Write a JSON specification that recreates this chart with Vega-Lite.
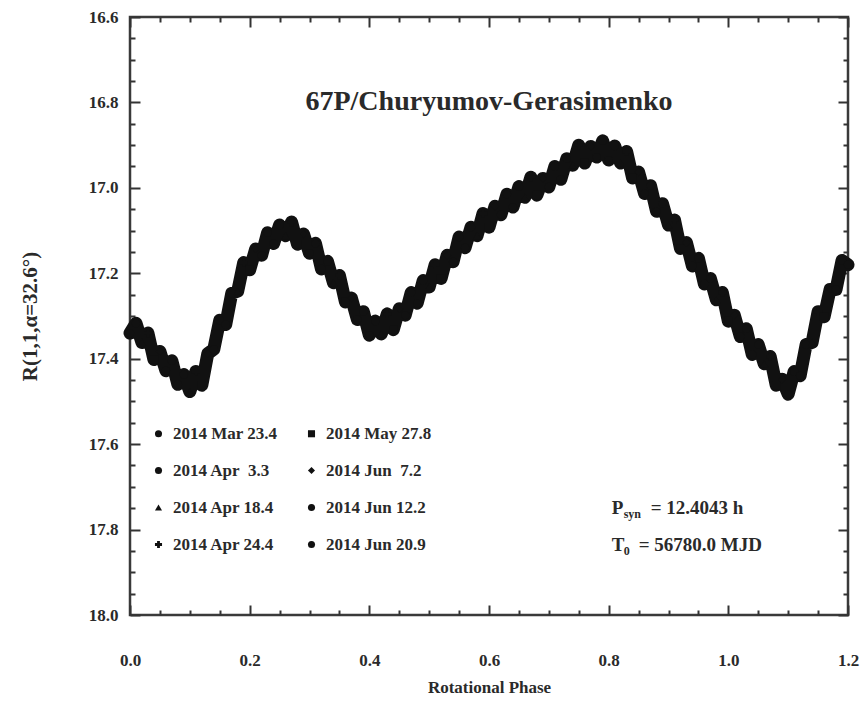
{
  "$schema": "https://vega.github.io/schema/vega-lite/v6.json",
  "width": 718,
  "height": 598,
  "autosize": {"type": "none"},
  "padding": {"left": 130, "top": 17, "right": 16, "bottom": 94},
  "background": "white",
  "config": {"view": {"stroke": "#3a3a3a", "strokeWidth": 2.5}, "font": "Liberation Serif"},
  "datasets": {
    "curve": [
      {"p": 0.00, "m": 17.34, "d": "2014 Mar 23.4"},
      {"p": 0.01, "m": 17.317, "d": "2014 Apr\u00a0 3.3"},
      {"p": 0.02, "m": 17.362, "d": "2014 Apr 18.4"},
      {"p": 0.03, "m": 17.34, "d": "2014 Apr 24.4"},
      {"p": 0.04, "m": 17.402, "d": "2014 May 27.8"},
      {"p": 0.05, "m": 17.383, "d": "2014 Jun\u00a0 7.2"},
      {"p": 0.06, "m": 17.428, "d": "2014 Jun 12.2"},
      {"p": 0.07, "m": 17.405, "d": "2014 Jun 20.9"},
      {"p": 0.08, "m": 17.46, "d": "2014 Mar 23.4"},
      {"p": 0.09, "m": 17.437, "d": "2014 Apr\u00a0 3.3"},
      {"p": 0.10, "m": 17.477, "d": "2014 Apr 18.4"},
      {"p": 0.11, "m": 17.43, "d": "2014 Apr 24.4"},
      {"p": 0.12, "m": 17.462, "d": "2014 May 27.8"},
      {"p": 0.13, "m": 17.388, "d": "2014 Jun\u00a0 7.2"},
      {"p": 0.14, "m": 17.378, "d": "2014 Jun 12.2"},
      {"p": 0.15, "m": 17.31, "d": "2014 Jun 20.9"},
      {"p": 0.16, "m": 17.32, "d": "2014 Mar 23.4"},
      {"p": 0.17, "m": 17.247, "d": "2014 Apr\u00a0 3.3"},
      {"p": 0.18, "m": 17.242, "d": "2014 Apr 18.4"},
      {"p": 0.19, "m": 17.175, "d": "2014 Apr 24.4"},
      {"p": 0.20, "m": 17.192, "d": "2014 May 27.8"},
      {"p": 0.21, "m": 17.143, "d": "2014 Jun\u00a0 7.2"},
      {"p": 0.22, "m": 17.158, "d": "2014 Jun 12.2"},
      {"p": 0.23, "m": 17.105, "d": "2014 Jun 20.9"},
      {"p": 0.24, "m": 17.13, "d": "2014 Mar 23.4"},
      {"p": 0.25, "m": 17.087, "d": "2014 Apr\u00a0 3.3"},
      {"p": 0.26, "m": 17.112, "d": "2014 Apr 18.4"},
      {"p": 0.27, "m": 17.08, "d": "2014 Apr 24.4"},
      {"p": 0.28, "m": 17.132, "d": "2014 May 27.8"},
      {"p": 0.29, "m": 17.108, "d": "2014 Jun\u00a0 7.2"},
      {"p": 0.30, "m": 17.153, "d": "2014 Jun 12.2"},
      {"p": 0.31, "m": 17.13, "d": "2014 Jun 20.9"},
      {"p": 0.32, "m": 17.19, "d": "2014 Mar 23.4"},
      {"p": 0.33, "m": 17.172, "d": "2014 Apr\u00a0 3.3"},
      {"p": 0.34, "m": 17.222, "d": "2014 Apr 18.4"},
      {"p": 0.35, "m": 17.205, "d": "2014 Apr 24.4"},
      {"p": 0.36, "m": 17.267, "d": "2014 May 27.8"},
      {"p": 0.37, "m": 17.258, "d": "2014 Jun\u00a0 7.2"},
      {"p": 0.38, "m": 17.308, "d": "2014 Jun 12.2"},
      {"p": 0.39, "m": 17.29, "d": "2014 Jun 20.9"},
      {"p": 0.40, "m": 17.345, "d": "2014 Mar 23.4"},
      {"p": 0.41, "m": 17.312, "d": "2014 Apr\u00a0 3.3"},
      {"p": 0.42, "m": 17.342, "d": "2014 Apr 18.4"},
      {"p": 0.43, "m": 17.295, "d": "2014 Apr 24.4"},
      {"p": 0.44, "m": 17.332, "d": "2014 May 27.8"},
      {"p": 0.45, "m": 17.283, "d": "2014 Jun\u00a0 7.2"},
      {"p": 0.46, "m": 17.298, "d": "2014 Jun 12.2"},
      {"p": 0.47, "m": 17.245, "d": "2014 Jun 20.9"},
      {"p": 0.48, "m": 17.27, "d": "2014 Mar 23.4"},
      {"p": 0.49, "m": 17.217, "d": "2014 Apr\u00a0 3.3"},
      {"p": 0.50, "m": 17.232, "d": "2014 Apr 18.4"},
      {"p": 0.51, "m": 17.18, "d": "2014 Apr 24.4"},
      {"p": 0.52, "m": 17.212, "d": "2014 May 27.8"},
      {"p": 0.53, "m": 17.158, "d": "2014 Jun\u00a0 7.2"},
      {"p": 0.54, "m": 17.173, "d": "2014 Jun 12.2"},
      {"p": 0.55, "m": 17.115, "d": "2014 Jun 20.9"},
      {"p": 0.56, "m": 17.14, "d": "2014 Mar 23.4"},
      {"p": 0.57, "m": 17.092, "d": "2014 Apr\u00a0 3.3"},
      {"p": 0.58, "m": 17.112, "d": "2014 Apr 18.4"},
      {"p": 0.59, "m": 17.06, "d": "2014 Apr 24.4"},
      {"p": 0.60, "m": 17.092, "d": "2014 May 27.8"},
      {"p": 0.61, "m": 17.043, "d": "2014 Jun\u00a0 7.2"},
      {"p": 0.62, "m": 17.063, "d": "2014 Jun 12.2"},
      {"p": 0.63, "m": 17.015, "d": "2014 Jun 20.9"},
      {"p": 0.64, "m": 17.045, "d": "2014 Mar 23.4"},
      {"p": 0.65, "m": 16.997, "d": "2014 Apr\u00a0 3.3"},
      {"p": 0.66, "m": 17.022, "d": "2014 Apr 18.4"},
      {"p": 0.67, "m": 16.975, "d": "2014 Apr 24.4"},
      {"p": 0.68, "m": 17.017, "d": "2014 May 27.8"},
      {"p": 0.69, "m": 16.978, "d": "2014 Jun\u00a0 7.2"},
      {"p": 0.70, "m": 16.998, "d": "2014 Jun 12.2"},
      {"p": 0.71, "m": 16.95, "d": "2014 Jun 20.9"},
      {"p": 0.72, "m": 16.98, "d": "2014 Mar 23.4"},
      {"p": 0.73, "m": 16.932, "d": "2014 Apr\u00a0 3.3"},
      {"p": 0.74, "m": 16.947, "d": "2014 Apr 18.4"},
      {"p": 0.75, "m": 16.90, "d": "2014 Apr 24.4"},
      {"p": 0.76, "m": 16.942, "d": "2014 May 27.8"},
      {"p": 0.77, "m": 16.903, "d": "2014 Jun\u00a0 7.2"},
      {"p": 0.78, "m": 16.928, "d": "2014 Jun 12.2"},
      {"p": 0.79, "m": 16.89, "d": "2014 Jun 20.9"},
      {"p": 0.80, "m": 16.935, "d": "2014 Mar 23.4"},
      {"p": 0.81, "m": 16.902, "d": "2014 Apr\u00a0 3.3"},
      {"p": 0.82, "m": 16.942, "d": "2014 Apr 18.4"},
      {"p": 0.83, "m": 16.915, "d": "2014 Apr 24.4"},
      {"p": 0.84, "m": 16.977, "d": "2014 May 27.8"},
      {"p": 0.85, "m": 16.963, "d": "2014 Jun\u00a0 7.2"},
      {"p": 0.86, "m": 17.013, "d": "2014 Jun 12.2"},
      {"p": 0.87, "m": 16.995, "d": "2014 Jun 20.9"},
      {"p": 0.88, "m": 17.055, "d": "2014 Mar 23.4"},
      {"p": 0.89, "m": 17.037, "d": "2014 Apr\u00a0 3.3"},
      {"p": 0.90, "m": 17.087, "d": "2014 Apr 18.4"},
      {"p": 0.91, "m": 17.075, "d": "2014 Apr 24.4"},
      {"p": 0.92, "m": 17.142, "d": "2014 May 27.8"},
      {"p": 0.93, "m": 17.128, "d": "2014 Jun\u00a0 7.2"},
      {"p": 0.94, "m": 17.183, "d": "2014 Jun 12.2"},
      {"p": 0.95, "m": 17.165, "d": "2014 Jun 20.9"},
      {"p": 0.96, "m": 17.225, "d": "2014 Mar 23.4"},
      {"p": 0.97, "m": 17.212, "d": "2014 Apr\u00a0 3.3"},
      {"p": 0.98, "m": 17.262, "d": "2014 Apr 18.4"},
      {"p": 0.99, "m": 17.245, "d": "2014 Apr 24.4"},
      {"p": 1.00, "m": 17.312, "d": "2014 May 27.8"},
      {"p": 1.01, "m": 17.298, "d": "2014 Jun\u00a0 7.2"},
      {"p": 1.02, "m": 17.348, "d": "2014 Jun 12.2"},
      {"p": 1.03, "m": 17.33, "d": "2014 Jun 20.9"},
      {"p": 1.04, "m": 17.39, "d": "2014 Mar 23.4"},
      {"p": 1.05, "m": 17.367, "d": "2014 Apr\u00a0 3.3"},
      {"p": 1.06, "m": 17.412, "d": "2014 Apr 18.4"},
      {"p": 1.07, "m": 17.395, "d": "2014 Apr 24.4"},
      {"p": 1.08, "m": 17.462, "d": "2014 May 27.8"},
      {"p": 1.09, "m": 17.448, "d": "2014 Jun\u00a0 7.2"},
      {"p": 1.10, "m": 17.483, "d": "2014 Jun 12.2"},
      {"p": 1.11, "m": 17.43, "d": "2014 Jun 20.9"},
      {"p": 1.12, "m": 17.44, "d": "2014 Mar 23.4"},
      {"p": 1.13, "m": 17.367, "d": "2014 Apr\u00a0 3.3"},
      {"p": 1.14, "m": 17.362, "d": "2014 Apr 18.4"},
      {"p": 1.15, "m": 17.29, "d": "2014 Apr 24.4"},
      {"p": 1.16, "m": 17.302, "d": "2014 May 27.8"},
      {"p": 1.17, "m": 17.238, "d": "2014 Jun\u00a0 7.2"},
      {"p": 1.18, "m": 17.238, "d": "2014 Jun 12.2"},
      {"p": 1.19, "m": 17.17, "d": "2014 Jun 20.9"},
      {"p": 1.20, "m": 17.18, "d": "2014 Mar 23.4"}
    ]
  },
  "data": {"name": "curve"},
  "layer": [
    {
      "mark": {"type": "line", "color": "#111", "strokeWidth": 13, "strokeJoin": "round", "strokeCap": "round"},
      "encoding": {
        "x": {
          "field": "p", "type": "quantitative",
          "scale": {"domain": [0, 1.2], "nice": false, "zero": false},
          "axis": {
            "orient": "bottom",
            "values": [0, 0.05, 0.1, 0.15, 0.2, 0.25, 0.3, 0.35, 0.4, 0.45, 0.5, 0.55, 0.6, 0.65, 0.7, 0.75, 0.8, 0.85, 0.9, 0.95, 1, 1.05, 1.1, 1.15, 1.2],
            "format": ".1f",
            "labelExpr": "abs(datum.value*5-round(datum.value*5))<0.001 ? datum.label : ''",
            "tickSize": {"condition": {"test": "abs(datum.value*5-round(datum.value*5))<0.001", "value": -10}, "value": -5},
            "tickColor": "#333", "tickWidth": 2,
            "domain": false, "grid": false,
            "labelFont": "Liberation Serif", "labelFontWeight": "bold", "labelFontSize": 17, "labelColor": "#2a2a2a",
            "labelPadding": 47, "labelFlush": false, "labelOverlap": false,
            "title": "Rotational Phase",
            "titleFont": "Liberation Serif", "titleFontWeight": "bold", "titleFontSize": 17, "titleColor": "#2a2a2a",
            "titlePadding": 6
          }
        },
        "y": {
          "field": "m", "type": "quantitative",
          "scale": {"domain": [16.6, 18.0], "reverse": true, "nice": false, "zero": false},
          "axis": {
            "orient": "left",
            "values": [16.6, 16.65, 16.7, 16.75, 16.8, 16.85, 16.9, 16.95, 17.0, 17.05, 17.1, 17.15, 17.2, 17.25, 17.3, 17.35, 17.4, 17.45, 17.5, 17.55, 17.6, 17.65, 17.7, 17.75, 17.8, 17.85, 17.9, 17.95, 18.0],
            "format": ".1f",
            "labelExpr": "abs((datum.value-16.6)*5-round((datum.value-16.6)*5))<0.001 ? datum.label : ''",
            "tickSize": {"condition": {"test": "abs((datum.value-16.6)*5-round((datum.value-16.6)*5))<0.001", "value": -10}, "value": -5},
            "tickColor": "#333", "tickWidth": 2,
            "domain": false, "grid": false,
            "labelFont": "Liberation Serif", "labelFontWeight": "bold", "labelFontSize": 17, "labelColor": "#2a2a2a",
            "labelPadding": 22, "labelFlush": false, "labelOverlap": false,
            "title": "R(1,1,α=32.6°)",
            "titleFont": "Liberation Serif", "titleFontWeight": "bold", "titleFontSize": 21, "titleColor": "#2a2a2a",
            "titlePadding": 48
          }
        }
      }
    },
    {
      "mark": {"type": "point", "filled": true, "color": "#111", "size": 70, "opacity": 1},
      "encoding": {
        "x": {"field": "p", "type": "quantitative", "axis": null},
        "y": {"field": "m", "type": "quantitative", "axis": null},
        "shape": {
          "field": "d", "type": "nominal",
          "scale": {
            "domain": ["2014 Mar 23.4", "2014 Apr\u00a0 3.3", "2014 Apr 18.4", "2014 Apr 24.4", "2014 May 27.8", "2014 Jun\u00a0 7.2", "2014 Jun 12.2", "2014 Jun 20.9"],
            "range": ["circle", "circle", "triangle-up", "cross", "square", "diamond", "circle", "circle"]
          },
          "legend": {
            "orient": "none", "legendX": 20, "legendY": 408,
            "title": null, "columns": 2, "columnPadding": 25, "rowPadding": 19,
            "labelFont": "Liberation Serif", "labelFontWeight": "bold", "labelFontSize": 17, "labelColor": "#2a2a2a",
            "labelLimit": 250, "labelOffset": 6, "symbolSize": 50, "symbolFillColor": "#222", "symbolStrokeColor": "#222"
          }
        }
      }
    },
    {
      "mark": {"type": "point", "opacity": 0},
      "encoding": {
        "x": {
          "field": "p", "type": "quantitative",
          "axis": {
            "orient": "top",
            "values": [0, 0.05, 0.1, 0.15, 0.2, 0.25, 0.3, 0.35, 0.4, 0.45, 0.5, 0.55, 0.6, 0.65, 0.7, 0.75, 0.8, 0.85, 0.9, 0.95, 1, 1.05, 1.1, 1.15, 1.2],
            "labels": false, "title": null, "domain": false, "grid": false,
            "tickSize": {"condition": {"test": "abs(datum.value*5-round(datum.value*5))<0.001", "value": -10}, "value": -5},
            "tickColor": "#333", "tickWidth": 2
          }
        },
        "y": {
          "field": "m", "type": "quantitative",
          "axis": {
            "orient": "right",
            "values": [16.6, 16.65, 16.7, 16.75, 16.8, 16.85, 16.9, 16.95, 17.0, 17.05, 17.1, 17.15, 17.2, 17.25, 17.3, 17.35, 17.4, 17.45, 17.5, 17.55, 17.6, 17.65, 17.7, 17.75, 17.8, 17.85, 17.9, 17.95, 18.0],
            "labels": false, "title": null, "domain": false, "grid": false,
            "tickSize": {"condition": {"test": "abs((datum.value-16.6)*5-round((datum.value-16.6)*5))<0.001", "value": -10}, "value": -5},
            "tickColor": "#333", "tickWidth": 2
          }
        }
      }
    },
    {
      "data": {"values": [{}]},
      "mark": {"type": "text", "text": "67P/Churyumov-Gerasimenko", "font": "Liberation Serif", "fontWeight": "bold", "fontSize": 28, "color": "#2a2a2a", "align": "center", "baseline": "middle"},
      "encoding": {
        "x": {"datum": 0.6, "type": "quantitative", "axis": null},
        "y": {"datum": 16.8, "type": "quantitative", "axis": null}
      }
    },
    {
      "data": {"values": [{}]},
      "mark": {"type": "text", "text": "P", "font": "Liberation Serif", "fontWeight": "bold", "fontSize": 19, "color": "#2a2a2a", "align": "left", "baseline": "middle"},
      "encoding": {
        "x": {"datum": 0.805, "type": "quantitative", "axis": null},
        "y": {"datum": 17.75, "type": "quantitative", "axis": null}
      }
    },
    {
      "data": {"values": [{}]},
      "mark": {"type": "text", "text": "syn", "font": "Liberation Serif", "fontWeight": "bold", "fontSize": 12, "color": "#2a2a2a", "align": "left", "baseline": "middle", "dx": 12, "dy": 6},
      "encoding": {
        "x": {"datum": 0.805, "type": "quantitative", "axis": null},
        "y": {"datum": 17.75, "type": "quantitative", "axis": null}
      }
    },
    {
      "data": {"values": [{}]},
      "mark": {"type": "text", "text": "= 12.4043 h", "font": "Liberation Serif", "fontWeight": "bold", "fontSize": 19, "color": "#2a2a2a", "align": "left", "baseline": "middle", "dx": 39},
      "encoding": {
        "x": {"datum": 0.805, "type": "quantitative", "axis": null},
        "y": {"datum": 17.75, "type": "quantitative", "axis": null}
      }
    },
    {
      "data": {"values": [{}]},
      "mark": {"type": "text", "text": "T", "font": "Liberation Serif", "fontWeight": "bold", "fontSize": 19, "color": "#2a2a2a", "align": "left", "baseline": "middle"},
      "encoding": {
        "x": {"datum": 0.805, "type": "quantitative", "axis": null},
        "y": {"datum": 17.835, "type": "quantitative", "axis": null}
      }
    },
    {
      "data": {"values": [{}]},
      "mark": {"type": "text", "text": "0", "font": "Liberation Serif", "fontWeight": "bold", "fontSize": 12, "color": "#2a2a2a", "align": "left", "baseline": "middle", "dx": 12, "dy": 6},
      "encoding": {
        "x": {"datum": 0.805, "type": "quantitative", "axis": null},
        "y": {"datum": 17.835, "type": "quantitative", "axis": null}
      }
    },
    {
      "data": {"values": [{}]},
      "mark": {"type": "text", "text": "= 56780.0 MJD", "font": "Liberation Serif", "fontWeight": "bold", "fontSize": 19, "color": "#2a2a2a", "align": "left", "baseline": "middle", "dx": 27},
      "encoding": {
        "x": {"datum": 0.805, "type": "quantitative", "axis": null},
        "y": {"datum": 17.835, "type": "quantitative", "axis": null}
      }
    }
  ],
  "resolve": {"axis": {"x": "independent", "y": "independent"}}
}
